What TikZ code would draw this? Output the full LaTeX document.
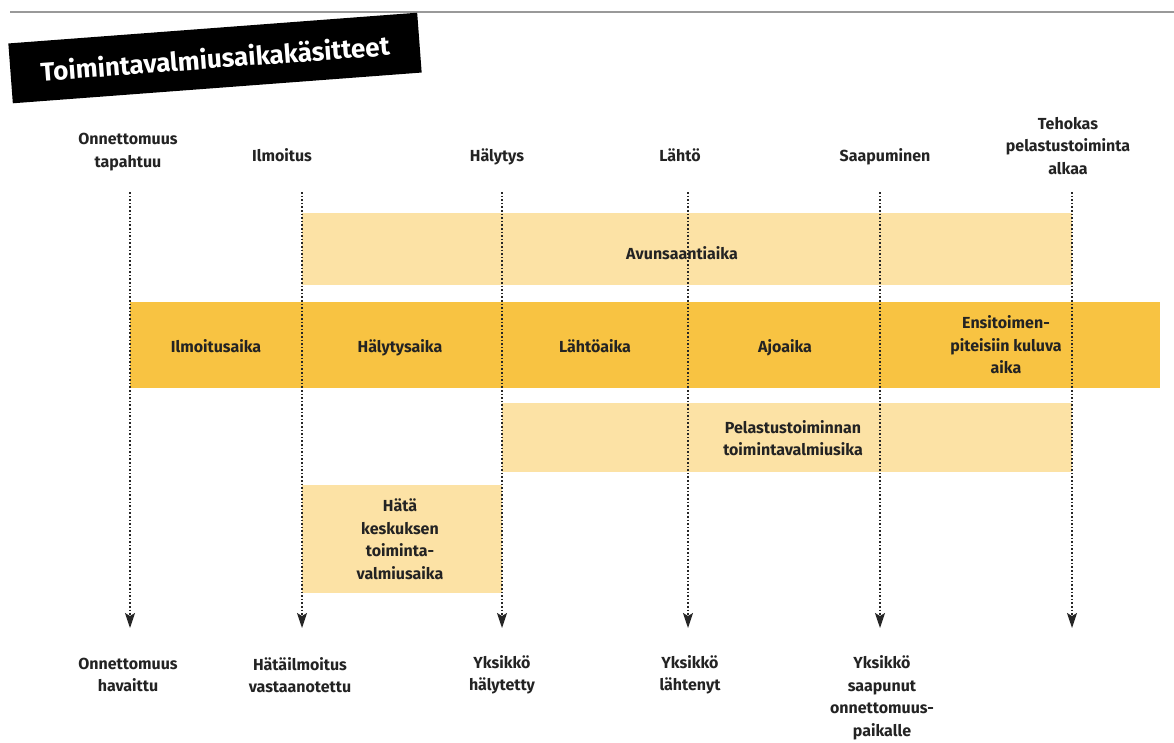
\documentclass[tikz,border=0pt]{standalone}
\usepackage{fontspec}
\setmainfont{Fira Sans}
\usetikzlibrary{arrows.meta}
\definecolor{palebar}{RGB}{252,226,165}
\definecolor{goldbar}{RGB}{248,195,66}
\definecolor{inkgray}{RGB}{35,35,35}
\begin{document}
\begin{tikzpicture}[x=1pt,y=-1pt]
        \tikzstyle{lbl}=[align=center,text=inkgray,inner sep=0pt,font=\fontsize{16}{22.5}\selectfont\bfseries]
        \tikzstyle{pale}=[fill=palebar,inner sep=0pt]
        \tikzstyle{gold}=[fill=goldbar,inner sep=0pt]
        \tikzstyle{tick}=[draw=black!85,line width=1.6pt,dotted,-{Stealth[length=15pt,width=10pt,inset=3pt]}]
        \useasboundingbox (0,0) rectangle (1174,742);
        % top rule and title
        \draw[line width=2.5pt,black!40] (10,12) -- (1174,12);
        \node [fill=black,rotate=4.3,minimum width=410,minimum height=60,inner sep=0pt,text=white,font=\fontsize{26}{30}\selectfont\bfseries] (title) at (215,58) {Toimintavalmiusaikakäsitteet};
        % bars
        \node [pale,minimum width=770,minimum height=72] (avu) at (687,249) {};
        \node [gold,minimum width=1030,minimum height=86] (main) at (645,345) {};
        \node [pale,minimum width=570,minimum height=69] (pel) at (787,437.5) {};
        \node [pale,minimum width=200,minimum height=108] (hata) at (402,539) {};
        % bar labels
        \node [lbl,anchor=base] (avul) at (682,259) {Avunsaantiaika};
        \node [lbl,anchor=base] (ilmaika) at (216,352) {Ilmoitusaika};
        \node [lbl,anchor=base] (halaika) at (400,352) {Hälytysaika};
        \node [lbl,anchor=base] (lahaika) at (595,352) {Lähtöaika};
        \node [lbl,anchor=base] (ajoaika) at (785,352) {Ajoaika};
        \node [lbl] (ensi) at (1006,345) {Ensitoimen-\\piteisiin kuluva\\aika};
        \node [lbl] (pell) at (793,438) {Pelastustoiminnan\\toimintavalmiusika};
        \node [lbl] (hatal) at (400,539) {Hätä\\keskuksen\\toiminta-\\valmiusaika};
        % top labels
        \node [lbl] (t1l) at (128,152) {Onnettomuus\\tapahtuu};
        \node [lbl,anchor=base] (t2l) at (282,161) {Ilmoitus};
        \node [lbl,anchor=base] (t3l) at (497,161) {Hälytys};
        \node [lbl,anchor=base] (t4l) at (680,161) {Lähtö};
        \node [lbl,anchor=base] (t5l) at (885,161) {Saapuminen};
        \node [lbl] (t6l) at (1068,146) {Tehokas\\pelastustoiminta\\alkaa};
        % bottom labels
        \node [lbl] (b1l) at (128,675) {Onnettomuus\\havaittu};
        \node [lbl] (b2l) at (300,675) {Hätäilmoitus\\vastaanotettu};
        \node [lbl] (b3l) at (502,675) {Yksikkö\\hälytetty};
        \node [lbl] (b4l) at (690,675) {Yksikkö\\lähtenyt};
        \node [lbl] (b5l) at (882,698) {Yksikkö\\saapunut\\onnettomuus-\\paikalle};
        % time lines
        \coordinate (t1) at (130,192); \coordinate (b1) at (130,628);
        \coordinate (t2) at (302,192); \coordinate (b2) at (302,628);
        \coordinate (t3) at (502,192); \coordinate (b3) at (502,628);
        \coordinate (t4) at (688,192); \coordinate (b4) at (688,628);
        \coordinate (t5) at (880,192); \coordinate (b5) at (880,628);
        \coordinate (t6) at (1072,192); \coordinate (b6) at (1072,628);
        \path[tick] (t1) -- (b1);
        \path[tick] (t2) -- (b2);
        \path[tick] (t3) -- (b3);
        \path[tick] (t4) -- (b4);
        \path[tick] (t5) -- (b5);
        \path[tick] (t6) -- (b6);
      \end{tikzpicture}
\end{document}
